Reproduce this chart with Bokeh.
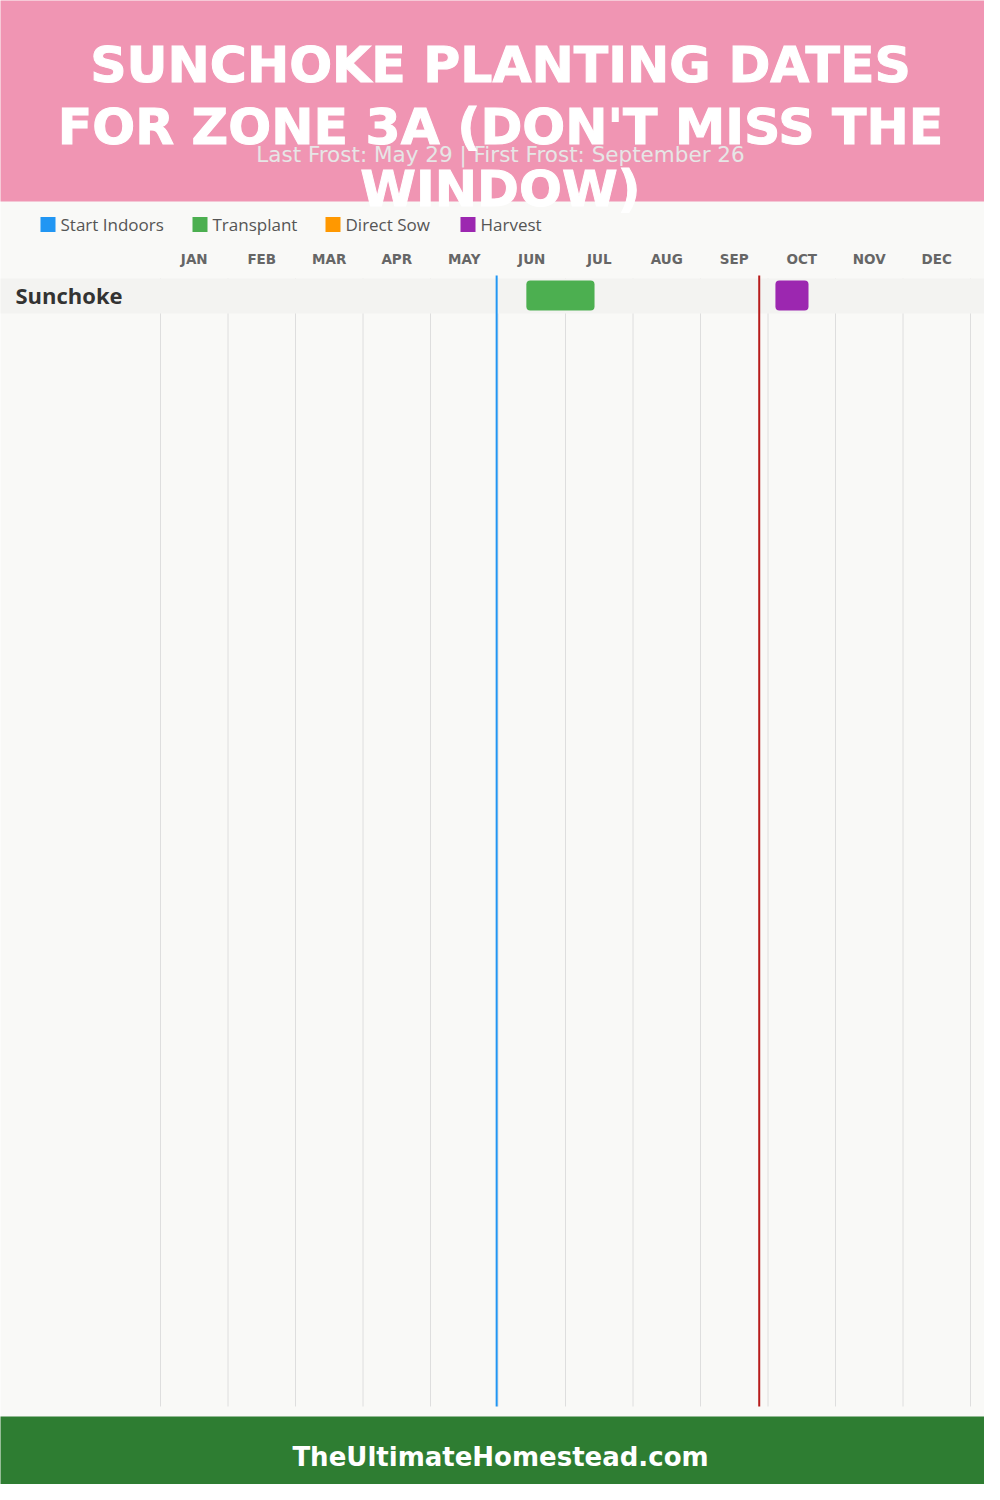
from bokeh.plotting import figure
from bokeh.models import Range1d, BoxAnnotation
from bokeh.core.properties import value
from bokeh.embed import file_html
from bokeh.resources import INLINE

# ---- data ----
months = ["JAN", "FEB", "MAR", "APR", "MAY", "JUN", "JUL", "AUG", "SEP", "OCT", "NOV", "DEC"]
crops = ["Sunchoke"]
legend_labels = ["Start Indoors", "Transplant", "Direct Sow", "Harvest"]
legend_colors = ["#2196F3", "#4CAF50", "#FF9800", "#9C27B0"]
# bars: crop index, activity, start / end in month units (0 = Jan 1)
bar_crop = [0, 0]
bar_kind = ["Transplant", "Harvest"]
bar_start = [5.42, 9.11]
bar_end = [6.43, 9.60]
# frost lines in month units
last_frost_pos = 4.98
first_frost_pos = 8.87
last_frost_label = "May 29"
first_frost_label = "September 26"
title_lines = ["SUNCHOKE PLANTING DATES", "FOR ZONE 3A (DON'T MISS THE", "WINDOW)"]
footer_text = "TheUltimateHomestead.com"

# ---- layout (pixel space) ----
W, H = 984, 1484
X0, MW = 160.0, 67.5  # left edge of Jan and px per month


def px2m(xpx):
    return (xpx - X0) / MW


p = figure(width=W, height=H, output_backend="svg", toolbar_location=None,
           x_range=Range1d(px2m(0), px2m(W)),
           y_range=Range1d(H, 0),
           x_axis_location=None, y_axis_location=None, min_border=0,
           background_fill_color="#f9f9f7", border_fill_color="#f9f9f7",
           outline_line_color=None)
p.grid.visible = False

XL, XR = px2m(-50), px2m(1050)
kind_color = dict(zip(legend_labels, legend_colors))

# grid lines
ROW_TOP, ROW_H, GRID_BOTTOM = 278, 35, 1406
p.segment(x0=list(range(13)), y0=[ROW_TOP] * 13, x1=list(range(13)), y1=[GRID_BOTTOM] * 13,
          line_color="#dedede", line_width=1)

# row bands and names
for i, c in enumerate(crops):
    top = ROW_TOP + i * ROW_H
    p.quad(left=[XL], right=[XR], top=[top], bottom=[top + ROW_H], fill_color="#f3f3f1", line_color=None)
    p.text(x=[px2m(15)], y=[top + ROW_H / 2 - 1], text=[c], text_font=value("Open Sans"),
           text_font_style="bold", text_font_size="22px", text_color="#333333",
           text_baseline="middle", text_align="left")

# frost lines
p.segment(x0=[last_frost_pos], y0=[275], x1=[last_frost_pos], y1=[GRID_BOTTOM], line_color="#2196F3", line_width=2)
p.segment(x0=[first_frost_pos], y0=[275], x1=[first_frost_pos], y1=[GRID_BOTTOM], line_color="#b71c1c", line_width=2)

# bars
for ci, k, s, e in zip(bar_crop, bar_kind, bar_start, bar_end):
    top = ROW_TOP + ci * ROW_H
    p.add_layout(BoxAnnotation(left=s, right=e, top=top + 2, bottom=top + 32, fill_color=kind_color[k],
                               fill_alpha=1.0, line_color=None, border_radius=4, level="overlay"))

# month labels
p.text(x=[i + 0.5 for i in range(12)], y=[258] * 12, text=months, text_font=value("DejaVu Sans"),
       text_font_style="bold", text_font_size="13.5px", text_color="#666666",
       text_align="center", text_baseline="middle")

# legend
leg_sq_x = [40, 192, 325, 460]
p.scatter(x=[px2m(x + 7.5) for x in leg_sq_x], y=[224] * 4, marker="square", size=15,
          fill_color=legend_colors, line_color=None)
p.text(x=[px2m(x + 20) for x in leg_sq_x], y=[224] * 4, text=legend_labels, text_font=value("Open Sans"),
       text_font_size="17px", text_color="#555555", text_align="left", text_baseline="middle")

# header
p.quad(left=[XL], right=[XR], top=[-10], bottom=[201], fill_color="#f095b3", line_color=None)
p.text(x=[px2m(500)], y=[154],
       text=[f"Last Frost: {last_frost_label} | First Frost: {first_frost_label}"],
       text_font=value("DejaVu Sans"), text_font_size="21.5px", text_color="#e6e6e6",
       text_align="center", text_baseline="middle")
tr = p.text(x=[px2m(500)] * 3, y=[64, 126, 188], text=title_lines, text_font=value("DejaVu Sans"),
            text_font_style="bold", text_font_size="50.5px", text_color="#ffffff",
            text_align="center", text_baseline="middle")
try:
    tr.glyph.text_outline_color = "#ffffff"
except Exception:
    pass

# footer
p.quad(left=[XL], right=[XR], top=[1416], bottom=[1600], fill_color="#2e7d32", line_color=None)
p.text(x=[px2m(500)], y=[1456], text=[footer_text], text_font=value("DejaVu Sans"),
       text_font_style="bold", text_font_size="26px", text_color="#ffffff",
       text_align="center", text_baseline="middle")

open("out.html", "w").write(file_html(p, INLINE))
